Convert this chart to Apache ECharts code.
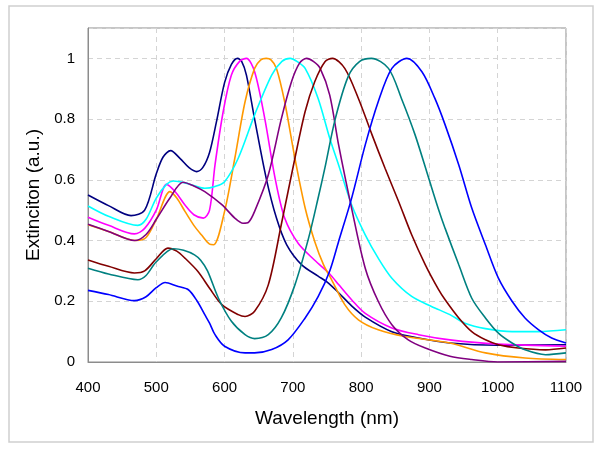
<!DOCTYPE html>
<html>
<head>
<meta charset="utf-8">
<script src="https://cdn.jsdelivr.net/npm/echarts@6/dist/echarts.min.js"></script>
<style>
html,body{margin:0;padding:0;background:#fff;}
#chart{width:600px;height:450px;}
</style>
</head>
<body>
<div id="chart"></div>
<script>
// Extinction spectra, [wavelength (nm), extinction (a.u.)]
const navy = [[400,0.55],[430,0.515],[463,0.482],[483,0.50],[500,0.62],[510,0.675],[521,0.696],[535,0.67],[548,0.64],[559,0.627],[568,0.64],[578,0.69],[588,0.79],[600,0.92],[610,0.98],[619,1.0],[625,0.99],[632,0.945],[644,0.80],[661,0.605],[676,0.474],[691,0.386],[713,0.32],[737,0.283],[752,0.26],[767,0.228],[786,0.185],[806,0.148],[845,0.10],[884,0.079],[930,0.0625],[1000,0.055],[1100,0.057]];
const magenta = [[400,0.477],[430,0.45],[468,0.422],[483,0.44],[500,0.50],[515,0.585],[528,0.56],[542,0.517],[555,0.485],[569,0.474],[578,0.50],[586,0.649],[598,0.825],[610,0.945],[622,0.99],[632,1.0],[644,0.956],[659,0.80],[674,0.605],[688,0.474],[708,0.39],[732,0.335],[754,0.29],[767,0.255],[786,0.205],[806,0.16],[845,0.112],[884,0.09],[930,0.073],[1000,0.059],[1100,0.052]];
const orange = [[400,0.452],[430,0.43],[470,0.40],[485,0.41],[500,0.47],[520,0.561],[530,0.54],[542,0.496],[555,0.45],[566,0.419],[578,0.388],[584,0.386],[600,0.496],[615,0.671],[630,0.857],[644,0.967],[653,0.995],[661,1.0],[668,0.995],[676,0.967],[688,0.857],[703,0.671],[718,0.507],[732,0.397],[745,0.32],[757,0.27],[776,0.189],[796,0.139],[825,0.106],[864,0.084],[930,0.0625],[982,0.03],[1040,0.013],[1100,0.008]];
const cyan = [[400,0.514],[430,0.48],[473,0.45],[485,0.47],[500,0.54],[515,0.585],[525,0.596],[542,0.59],[556,0.58],[571,0.572],[586,0.578],[600,0.594],[620,0.671],[644,0.814],[669,0.945],[684,0.99],[696,1.0],[706,0.99],[718,0.967],[737,0.868],[754,0.737],[767,0.649],[786,0.518],[806,0.419],[825,0.342],[845,0.276],[874,0.216],[903,0.183],[930,0.156],[952,0.128],[982,0.11],[1021,0.10],[1060,0.10],[1100,0.106]];
const purple = [[400,0.454],[430,0.43],[468,0.40],[485,0.42],[500,0.47],[520,0.54],[539,0.592],[555,0.58],[571,0.561],[596,0.518],[615,0.474],[627,0.457],[635,0.46],[644,0.496],[664,0.616],[683,0.80],[698,0.923],[710,0.985],[720,1.0],[730,0.99],[740,0.967],[754,0.879],[767,0.715],[786,0.507],[806,0.309],[825,0.20],[845,0.123],[869,0.073],[894,0.046],[930,0.019],[962,0.008],[1000,0.0],[1100,0.002]];
const darkred = [[400,0.336],[430,0.315],[468,0.293],[483,0.30],[500,0.34],[517,0.375],[530,0.365],[542,0.342],[561,0.298],[578,0.243],[596,0.189],[620,0.156],[630,0.150],[644,0.167],[664,0.254],[683,0.452],[703,0.671],[718,0.825],[732,0.923],[747,0.989],[758,1.0],[776,0.967],[796,0.868],[816,0.748],[835,0.638],[855,0.528],[874,0.419],[894,0.32],[913,0.24],[923,0.205],[943,0.145],[962,0.10],[982,0.073],[1001,0.057],[1030,0.046],[1070,0.04],[1100,0.046]];
const teal = [[400,0.309],[430,0.29],[473,0.271],[485,0.285],[500,0.33],[525,0.373],[540,0.368],[556,0.353],[565,0.335],[575,0.30],[591,0.21],[610,0.134],[630,0.09],[644,0.077],[664,0.09],[683,0.145],[703,0.254],[723,0.408],[737,0.54],[747,0.64],[762,0.80],[781,0.94],[798,0.99],[815,1.0],[840,0.967],[859,0.868],[879,0.748],[899,0.605],[913,0.505],[923,0.44],[943,0.32],[962,0.21],[982,0.145],[1001,0.095],[1021,0.0625],[1040,0.04],[1070,0.024],[1100,0.03]];
const blue = [[400,0.236],[430,0.222],[468,0.202],[485,0.215],[500,0.245],[513,0.262],[530,0.25],[547,0.238],[560,0.2],[571,0.156],[578,0.128],[586,0.09],[600,0.052],[630,0.03],[644,0.03],[669,0.041],[693,0.073],[718,0.145],[737,0.215],[754,0.30],[767,0.397],[786,0.539],[806,0.715],[825,0.857],[845,0.967],[867,1.0],[889,0.956],[908,0.868],[923,0.781],[943,0.649],[962,0.507],[982,0.386],[1001,0.276],[1021,0.20],[1040,0.145],[1060,0.106],[1079,0.079],[1100,0.0625]];

const seriesList = [
  {name:'A', data: navy, color:'#000080'},
  {name:'B', data: magenta, color:'#FF00FF'},
  {name:'C', data: orange, color:'#FF9900'},
  {name:'D', data: cyan, color:'#00FFFF'},
  {name:'E', data: purple, color:'#800080'},
  {name:'F', data: darkred, color:'#800000'},
  {name:'G', data: teal, color:'#008080'},
  {name:'H', data: blue, color:'#0000FF'}
];

const chart = echarts.init(document.getElementById('chart'), null, {renderer:'canvas'});
const FONT = '"Liberation Sans", Arial, sans-serif';
chart.setOption({
  animation:false,
  backgroundColor:'#fff',
  textStyle:{fontFamily:FONT},
  graphic:[{type:'rect', shape:{x:9, y:6, width:584, height:436}, style:{fill:'none', stroke:'#cfcfcf', lineWidth:1.5}, silent:true}],
  grid:{left:88, right:34, top:28, bottom:88, show:true, borderColor:'#8c8c8c', borderWidth:1},
  xAxis:{
    type:'value', min:400, max:1100, interval:100,
    name:'Wavelength (nm)', nameLocation:'middle', nameGap:47,
    nameTextStyle:{fontSize:19, color:'#000', fontFamily:FONT},
    axisLine:{show:true, lineStyle:{color:'#8c8c8c'}},
    axisTick:{show:false},
    axisLabel:{fontSize:15, color:'#000', margin:18, fontFamily:FONT,
      formatter:function(v){ return String(v); }},
    splitLine:{show:true, lineStyle:{color:'#d4d4d4', type:[5,4], width:1}}
  },
  yAxis:{
    type:'value', min:0, max:1.1, interval:0.2,
    name:'Extinciton (a.u.)', nameLocation:'middle', nameGap:45,
    nameTextStyle:{fontSize:19, color:'#000', fontFamily:FONT},
    axisLine:{show:true, lineStyle:{color:'#8c8c8c'}},
    axisTick:{show:false},
    axisLabel:{fontSize:15, color:'#000', margin:13, fontFamily:FONT,
      formatter:function(v){ return v > 1.05 ? '' : String(Math.round(v*10)/10); }},
    splitLine:{show:true, lineStyle:{color:'#d4d4d4', type:[5,4], width:1}}
  },
  series: seriesList.map(s => ({
    name:s.name, type:'line', data:s.data, showSymbol:false, smooth:0.3,
    lineStyle:{color:s.color, width:1.6}, itemStyle:{color:s.color}
  }))
});
</script>
</body>
</html>
